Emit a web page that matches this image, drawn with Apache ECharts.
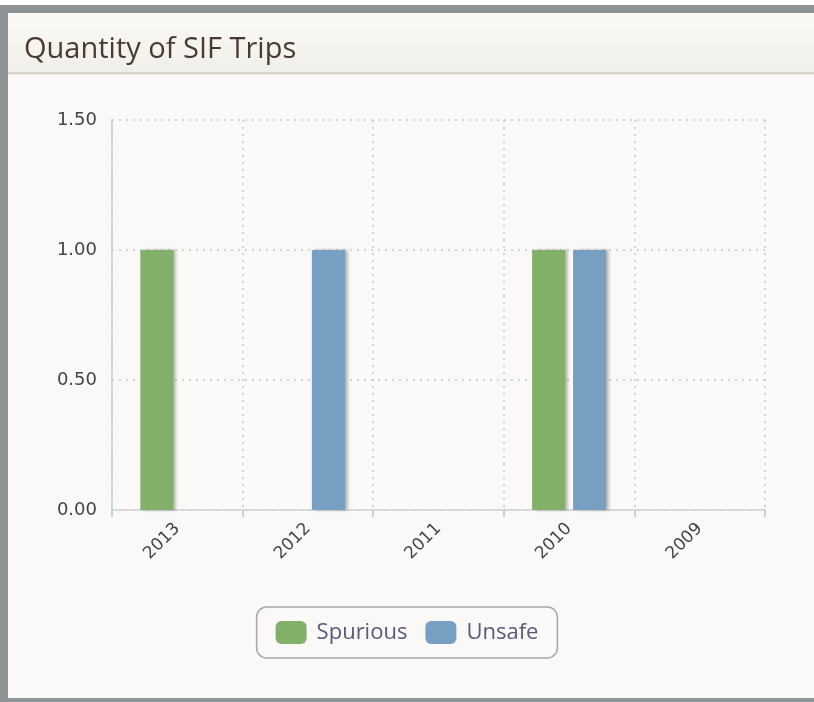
<!DOCTYPE html>
<html><head><meta charset="utf-8">
<script src="https://cdn.jsdelivr.net/npm/echarts@6/dist/echarts.min.js"></script>
<style>html,body{margin:0;padding:0;background:#fff}#c{width:814px;height:702px}</style>
</head><body><div id="c"></div>
<script>
const categories = ['2013', '2012', '2011', '2010', '2009'];
const spurious = [1, 0, 0, 1, 0];
const unsafe = [0, 1, 0, 1, 0];
const yTicks = { min: 0, max: 1.5, interval: 0.5 };

const chart = echarts.init(document.getElementById('c'));
chart.setOption({
  animation: false,
  graphic: [
    { type: 'rect', z: -10, shape: { x: 0, y: 5, width: 814, height: 697 }, style: { fill: '#8e9496' } },
    { type: 'rect', z: -9, shape: { x: 8, y: 13, width: 806, height: 685 }, style: { fill: '#faf9f7' } },
    { type: 'rect', z: -8, shape: { x: 8, y: 13, width: 806, height: 60 },
      style: { fill: new echarts.graphic.LinearGradient(0, 0, 0, 1, [{ offset: 0, color: '#fbfaf6' }, { offset: 1, color: '#f0eee8' }]) } },
    { type: 'rect', z: -7, shape: { x: 8, y: 72, width: 806, height: 2 }, style: { fill: '#d9d2c8' } },
    { type: 'rect', z: -7, shape: { x: 8, y: 74, width: 806, height: 1 }, style: { fill: '#ece8e2' } }
  ],
  title: {
    text: 'Quantity of SIF Trips', left: 19, top: 30,
    textStyle: { fontFamily: 'Open Sans', fontWeight: 'normal', fontSize: 29, color: '#4b3a33' }
  },
  grid: { left: 112, top: 120, right: 49, bottom: 192 },
  legend: {
    bottom: 44, left: 'center',
    data: ['Spurious', 'Unsafe'],
    icon: 'roundRect', itemWidth: 31, itemHeight: 23, itemGap: 18,
    borderColor: '#a8a8a8', borderWidth: 1.5, borderRadius: 10,
    padding: [14, 19, 14, 19],
    textStyle: { fontFamily: 'Open Sans', fontSize: 22, color: '#59597a', padding: [0, 0, 0, 5] }
  },
  xAxis: {
    type: 'category', data: categories, boundaryGap: true,
    axisLine: { lineStyle: { color: '#cfd3d8', width: 1.5 } },
    axisTick: { show: true, length: 7, lineStyle: { color: '#afc6dc', width: 1.5 } },
    axisLabel: { rotate: 45, fontSize: 17, color: '#444', fontFamily: 'DejaVu Sans', margin: 16 },
    splitLine: { show: true, lineStyle: { color: '#c8c8c8', type: [2, 5], width: 1.5 } }
  },
  yAxis: {
    type: 'value', min: yTicks.min, max: yTicks.max, interval: yTicks.interval,
    axisLine: { show: true, lineStyle: { color: '#cccccc', width: 1.5 } },
    axisTick: { show: false },
    axisLabel: { formatter: v => v.toFixed(2), fontSize: 18, color: '#444', fontFamily: 'DejaVu Sans', margin: 15 },
    splitLine: { show: true, lineStyle: { color: '#c8c8c8', type: [2, 5], width: 1.5 } }
  },
  series: [
    { name: 'Spurious', type: 'bar', data: spurious, barWidth: 33, barGap: '24%',
      itemStyle: { color: '#82b06a', shadowColor: 'rgba(0,0,0,0.3)', shadowOffsetX: 3, shadowBlur: 3 } },
    { name: 'Unsafe', type: 'bar', data: unsafe, barWidth: 33, barGap: '24%',
      itemStyle: { color: '#769fc2', shadowColor: 'rgba(0,0,0,0.3)', shadowOffsetX: 3, shadowBlur: 3 } }
  ]
});
</script></body></html>
